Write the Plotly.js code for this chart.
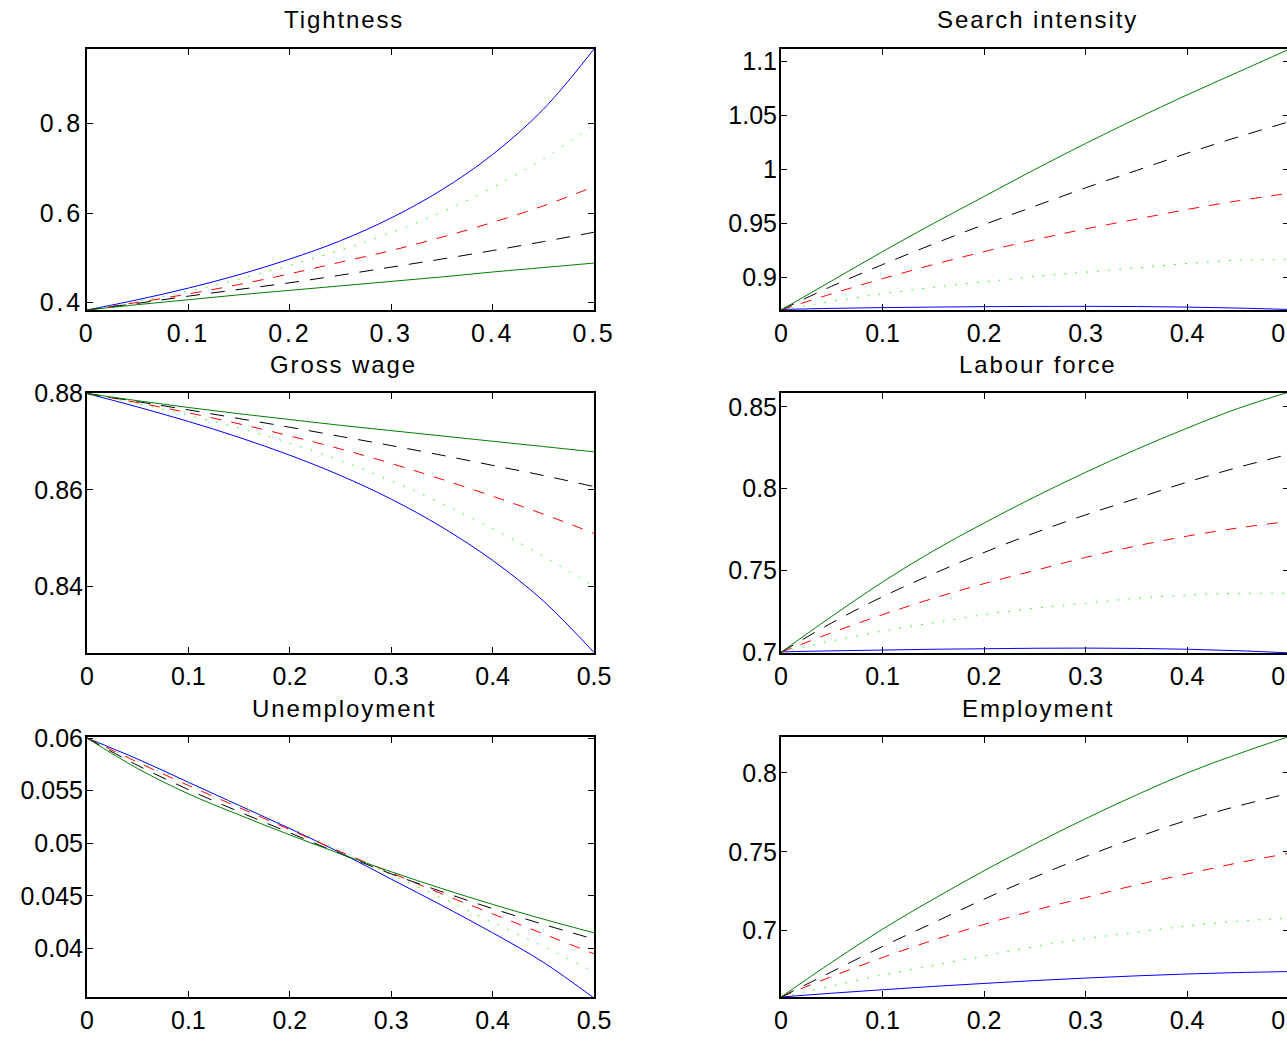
<!DOCTYPE html>
<html>
<head>
<meta charset="utf-8">
<script src="https://cdn.plot.ly/plotly-3.0.1.min.js"></script>
<style>
  html, body { margin: 0; padding: 0; overflow: hidden; background: #fff; }
  #chart { width: 1300px; height: 1038px; }
  .xtick text, .ytick text { letter-spacing: 2.8px !important; }
  .annotation-text { letter-spacing: 1.9px !important; }
</style>
</head>
<body>
<div id="chart"></div>
<script>
// ---- Data ----
const xVals = [0, 0.05, 0.1, 0.15, 0.2, 0.25, 0.3, 0.35, 0.4, 0.45, 0.5];

const panelTitles = ["Tightness", "Search intensity", "Gross wage", "Labour force", "Unemployment", "Employment"];
const xTickVals = [0, 0.1, 0.2, 0.3, 0.4, 0.5];

// Tightness
const tightBlue     = [0.383, 0.406, 0.432, 0.462, 0.497, 0.538, 0.589, 0.652, 0.731, 0.832, 0.967];
const tightDotted   = [0.383, 0.403, 0.425, 0.452, 0.483, 0.517, 0.556, 0.602, 0.657, 0.721, 0.797];
const tightRed      = [0.383, 0.400, 0.419, 0.440, 0.464, 0.490, 0.516, 0.546, 0.579, 0.616, 0.659];
const tightBlack    = [0.383, 0.398, 0.414, 0.429, 0.444, 0.461, 0.479, 0.497, 0.516, 0.536, 0.557];
const tightGreen    = [0.383, 0.395, 0.406, 0.417, 0.427, 0.437, 0.447, 0.457, 0.468, 0.478, 0.488];

// Search intensity
const searchBlue    = [0.8705, 0.8715, 0.8722, 0.8727, 0.8731, 0.8733, 0.8734, 0.8732, 0.8727, 0.8718, 0.8705];
const searchDotted  = [0.870, 0.878, 0.885, 0.891, 0.896, 0.901, 0.905, 0.909, 0.913, 0.916, 0.917];
const searchRed     = [0.870, 0.885, 0.899, 0.912, 0.924, 0.935, 0.945, 0.954, 0.963, 0.971, 0.978];
const searchBlack   = [0.870, 0.892, 0.912, 0.931, 0.949, 0.966, 0.983, 0.999, 1.015, 1.030, 1.044];
const searchGreen   = [0.870, 0.897, 0.924, 0.950, 0.975, 1.000, 1.024, 1.047, 1.069, 1.090, 1.111];

// Gross wage
const wageBlue      = [0.8800, 0.8772, 0.8742, 0.8709, 0.8672, 0.8630, 0.8581, 0.8523, 0.8454, 0.8370, 0.8263];
const wageDotted    = [0.8800, 0.8779, 0.8755, 0.8728, 0.8697, 0.8661, 0.8619, 0.8572, 0.8520, 0.8463, 0.8400];
const wageRed       = [0.8800, 0.8781, 0.8760, 0.8737, 0.8712, 0.8685, 0.8655, 0.8622, 0.8587, 0.8550, 0.8510];
const wageBlack     = [0.8800, 0.8783, 0.8766, 0.8748, 0.8730, 0.8711, 0.8692, 0.8672, 0.8651, 0.8630, 0.8607];
const wageGreen     = [0.8800, 0.8785, 0.8771, 0.8758, 0.8746, 0.8734, 0.8723, 0.8712, 0.8701, 0.8690, 0.8679];

// Labour force
const labourBlue    = [0.7003, 0.7009, 0.7014, 0.7019, 0.7022, 0.7025, 0.7026, 0.7024, 0.7019, 0.7010, 0.6997];
const labourDotted  = [0.700, 0.707, 0.713, 0.718, 0.723, 0.727, 0.730, 0.733, 0.735, 0.736, 0.736];
const labourRed     = [0.700, 0.712, 0.723, 0.733, 0.742, 0.750, 0.758, 0.765, 0.771, 0.776, 0.780];
const labourBlack   = [0.700, 0.718, 0.734, 0.748, 0.761, 0.773, 0.784, 0.794, 0.804, 0.813, 0.821];
const labourGreen   = [0.700, 0.722, 0.743, 0.762, 0.779, 0.795, 0.810, 0.824, 0.837, 0.849, 0.859];

// Unemployment
const unempBlue     = [0.0600, 0.0580, 0.0558, 0.0536, 0.0514, 0.0491, 0.0466, 0.0441, 0.0415, 0.0387, 0.0353];
const unempDotted   = [0.0600, 0.0578, 0.0557, 0.0536, 0.0515, 0.0493, 0.0470, 0.0448, 0.0425, 0.0402, 0.0378];
const unempRed      = [0.0600, 0.0577, 0.0555, 0.0534, 0.0513, 0.0492, 0.0472, 0.0452, 0.0433, 0.0414, 0.0395];
const unempBlack    = [0.0600, 0.0574, 0.0551, 0.0530, 0.0510, 0.0490, 0.0471, 0.0454, 0.0438, 0.0423, 0.0409];
const unempGreen    = [0.0600, 0.0571, 0.0547, 0.0527, 0.0508, 0.0490, 0.0473, 0.0457, 0.0442, 0.0428, 0.0415];

// Employment
const empBlue       = [0.6580, 0.6604, 0.6626, 0.6647, 0.6666, 0.6684, 0.6700, 0.6714, 0.6726, 0.6735, 0.6741];
const empDotted     = [0.658, 0.665, 0.672, 0.678, 0.684, 0.690, 0.695, 0.699, 0.703, 0.706, 0.708];
const empRed        = [0.658, 0.671, 0.683, 0.694, 0.704, 0.713, 0.721, 0.729, 0.736, 0.743, 0.749];
const empBlack      = [0.658, 0.674, 0.690, 0.705, 0.720, 0.734, 0.747, 0.759, 0.770, 0.779, 0.787];
const empGreen      = [0.658, 0.680, 0.701, 0.720, 0.738, 0.755, 0.771, 0.786, 0.800, 0.812, 0.823];

// y ranges and ticks per panel
const yRanges = [[0.383, 0.967], [0.870, 1.1115], [0.8262, 0.8801], [0.6996, 0.8585], [0.0354, 0.0601], [0.658, 0.8228]];
const yTick0  = [0.4, 0.9, 0.84, 0.7, 0.04, 0.7];
const yDtick  = [0.2, 0.05, 0.02, 0.05, 0.005, 0.05];

// ---- Styling / layout ----
const W = 1300, H = 1038;
const colPx = [[87, 594], [781, 1288.5]];
const rowPx = [[49, 310], [393, 653], [737, 997]];

const seriesStyles = [
  {color: 'rgb(0,0,255)', dash: 'solid'},
  {color: 'rgb(0,255,0)', dash: '1.5px,9.5px'},
  {color: 'rgb(255,0,0)', dash: '11px,10px'},
  {color: 'rgb(0,0,0)', dash: '14px,11px'},
  {color: 'rgb(0,128,0)', dash: 'solid'}
];

const panelSeries = [
  [tightBlue, tightDotted, tightRed, tightBlack, tightGreen],
  [searchBlue, searchDotted, searchRed, searchBlack, searchGreen],
  [wageBlue, wageDotted, wageRed, wageBlack, wageGreen],
  [labourBlue, labourDotted, labourRed, labourBlack, labourGreen],
  [unempBlue, unempDotted, unempRed, unempBlack, unempGreen],
  [empBlue, empDotted, empRed, empBlack, empGreen]
];

const font = {family: 'Liberation Sans, Arial, sans-serif', size: 24, color: '#000'};
const tickFont = {family: 'Liberation Sans, Arial, sans-serif', size: 25, color: '#000'};
const traces = [];
const layout = {
  width: W, height: H,
  margin: {l: 0, r: 0, t: 0, b: 0},
  paper_bgcolor: '#fff', plot_bgcolor: '#fff',
  showlegend: false,
  font: font,
  annotations: []
};

for (let p = 0; p < 6; p++) {
  const r = Math.floor(p / 2), c = p % 2;
  const suffix = p === 0 ? '' : String(p + 1);
  const xa = 'x' + suffix, ya = 'y' + suffix;
  panelSeries[p].forEach((ys, i) => {
    traces.push({
      x: xVals, y: ys, xaxis: xa, yaxis: ya, type: 'scatter', mode: 'lines',
      line: {color: seriesStyles[i].color, dash: seriesStyles[i].dash, width: 1, shape: 'spline', smoothing: 1},
      hoverinfo: 'skip'
    });
  });
  const xd = [colPx[c][0] / W, colPx[c][1] / W];
  const yd = [1 - rowPx[r][1] / H, 1 - rowPx[r][0] / H];
  const axCommon = {
    showgrid: false, zeroline: false, showline: true, linecolor: '#000', linewidth: 2,
    mirror: 'ticks', ticks: 'inside', ticklen: 6, tickwidth: 1, tickcolor: '#000',
    tickfont: tickFont, ticklabeloverflow: 'allow'
  };
  layout['xaxis' + suffix] = Object.assign({}, axCommon, {
    domain: xd, range: [0, 0.5], tickvals: xTickVals, anchor: ya, ticklabelstandoff: 0
  });
  layout['yaxis' + suffix] = Object.assign({}, axCommon, {
    domain: yd, range: yRanges[p], tick0: yTick0[p], dtick: yDtick[p], anchor: xa, ticklabelstandoff: -3
  });
  layout.annotations.push({
    text: panelTitles[p], xref: 'paper', yref: 'paper',
    x: (colPx[c][0] + colPx[c][1]) / 2 / W + 3 / W, y: 1 - (rowPx[r][0] - 29) / H,
    xanchor: 'center', yanchor: 'middle', showarrow: false, font: font
  });
}

Plotly.newPlot('chart', traces, layout, {displayModeBar: false, staticPlot: true});
</script>
</body>
</html>
